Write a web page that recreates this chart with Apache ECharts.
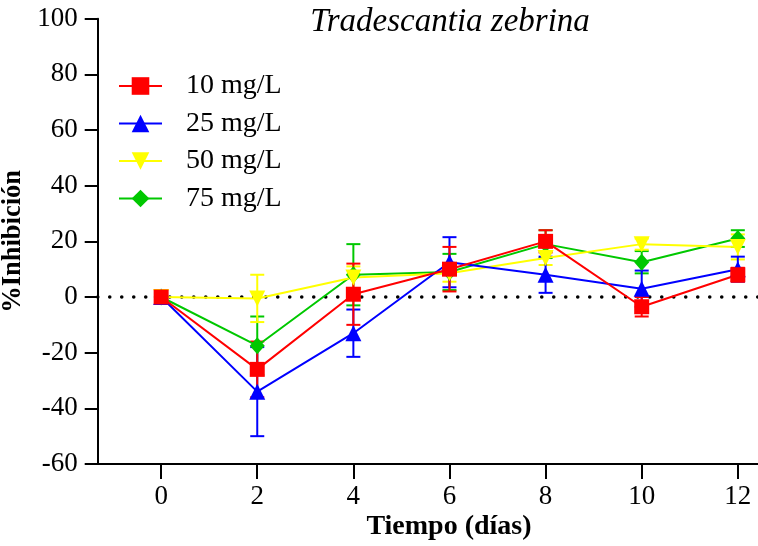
<!DOCTYPE html>
<html>
<head>
<meta charset="utf-8">
<script src="https://cdn.jsdelivr.net/npm/echarts@6/dist/echarts.min.js"></script>
<style>html,body{margin:0;padding:0;background:#fff}#c{width:758px;height:546px}</style>
</head>
<body>
<div id="c"></div>
<script>
// ---- data ----
const days = [0, 2, 4, 6, 8, 10, 12];
const xTicks = [0, 2, 4, 6, 8, 10, 12];
const seriesNames = ['10 mg/L', '25 mg/L', '50 mg/L', '75 mg/L'];
const val10 = [0, -26, 1, 10, 20, -3.5, 8];
const err10 = [0, 10, 11, 8, 4, 3.5, 2.5];
const val25 = [0, -34, -13, 12.5, 8, 3, 10];
const err25 = [0, 16, 8.5, 9, 6.5, 6.5, 4.5];
const val50 = [0, -0.5, 7, 8.5, 14, 19, 18];
const err50 = [0, 8.5, 4, 3, 2.5, 2, 4.5];
const val75 = [0, -17.5, 8, 9, 19, 12.5, 21];
const err75 = [0, 10.5, 11, 6.5, 5, 4, 3];

const colors = ['#FF0000', '#0000FF', '#FFFF00', '#00C800'];
const symbols = ['rect', 'triangle', 'triangle', 'diamond'];
const rotates = [0, 0, 180, 0];
const sizes = [15, 16, 16, [15, 17]];
const vals = [val10, val25, val50, val75];
const errs = [err10, err25, err50, err75];

const FONT = 'Liberation Serif';

function errRender(color) {
  return function (params, api) {
    const x = api.value(0), y = api.value(1), e = api.value(2);
    if (!e) return null;
    const t = api.coord([x, y + e]);
    const b = api.coord([x, y - e]);
    const hw = 7;
    const st = { stroke: color, lineWidth: 2 };
    return {
      type: 'group',
      children: [
        { type: 'line', shape: { x1: t[0], y1: t[1], x2: b[0], y2: b[1] }, style: st },
        { type: 'line', shape: { x1: t[0] - hw, y1: t[1], x2: t[0] + hw, y2: t[1] }, style: st },
        { type: 'line', shape: { x1: b[0] - hw, y1: b[1], x2: b[0] + hw, y2: b[1] }, style: st }
      ]
    };
  };
}

const series = [];
// draw 75 first, 10 last (10 mg/L on top)
[3, 2, 1, 0].forEach((i) => {
  series.push({
    name: seriesNames[i] + ' SD',
    type: 'custom',
    renderItem: errRender(colors[i]),
    data: days.map((d, k) => [d, vals[i][k], errs[i][k]]),
    encode: { x: 0, y: 1 },
    z: 2,
    silent: true
  });
});
[3, 2, 1, 0].forEach((i) => {
  const s = {
    name: seriesNames[i],
    type: 'line',
    data: days.map((d, k) => [d, vals[i][k]]),
    symbol: symbols[i],
    symbolSize: sizes[i],
    symbolRotate: rotates[i],
    showAllSymbol: true,
    color: colors[i],
    lineStyle: { color: colors[i], width: 2 },
    itemStyle: { color: colors[i] },
    z: 3,
    animation: false
  };
  if (i === 0) {
    s.markLine = {
      silent: true,
      symbol: 'none',
      label: { show: false },
      lineStyle: { color: '#000', type: [0.1, 11.9], width: 3.5, cap: 'round' },
      data: [{ yAxis: 0 }],
      z: 1
    };
  }
  series.push(s);
});

const chart = echarts.init(document.getElementById('c'), null, { renderer: 'canvas' });
chart.setOption({
  animation: false,
  backgroundColor: '#fff',
  textStyle: { fontFamily: FONT },
  grid: { left: 97.7, top: 18.7, right: 0, bottom: 82, containLabel: false, outerBoundsMode: 'none' },
  xAxis: {
    type: 'value',
    min: -1.32,
    max: 12.42,
    axisLine: { show: true, onZero: false, lineStyle: { color: '#000', width: 2 } },
    axisTick: { show: true, customValues: xTicks, length: 15, lineStyle: { color: '#000', width: 2 } },
    axisLabel: { customValues: xTicks, color: '#000', fontSize: 27, fontFamily: FONT, margin: 19 },
    splitLine: { show: false }
  },
  yAxis: {
    type: 'value',
    min: -60,
    max: 100,
    interval: 20,
    name: '%Inhibición',
    nameLocation: 'middle',
    nameGap: 64,
    nameRotate: 90,
    nameTextStyle: { color: '#000', fontSize: 26.5, fontWeight: 'bold', fontFamily: FONT },
    axisLine: { show: true, onZero: false, lineStyle: { color: '#000', width: 2 } },
    axisTick: { show: true, length: 13, lineStyle: { color: '#000', width: 2 } },
    axisLabel: { color: '#000', fontSize: 27, fontFamily: FONT, margin: 20 },
    splitLine: { show: false }
  },
  legend: {
    data: seriesNames.map(n => ({ name: n })),
    orient: 'vertical',
    left: 113,
    top: 67,
    itemWidth: 43,
    itemHeight: 22,
    itemGap: 9.5,
    textStyle: { color: '#000', fontSize: 28, fontFamily: FONT, lineHeight: 28, padding: [0, 0, 0, 19] }
  },
  graphic: [
    {
      type: 'text', x: 450, y: 22,
      style: { text: 'Tradescantia zebrina', fontFamily: FONT, fontStyle: 'italic', fontSize: 33, fill: '#000', textAlign: 'center', textVerticalAlign: 'middle' }
    },
    {
      type: 'text', x: 449, y: 527,
      style: { text: 'Tiempo (días)', fontFamily: FONT, fontWeight: 'bold', fontSize: 28, fill: '#000', textAlign: 'center', textVerticalAlign: 'middle' }
    }
  ],
  series: series
});
</script>
</body>
</html>
